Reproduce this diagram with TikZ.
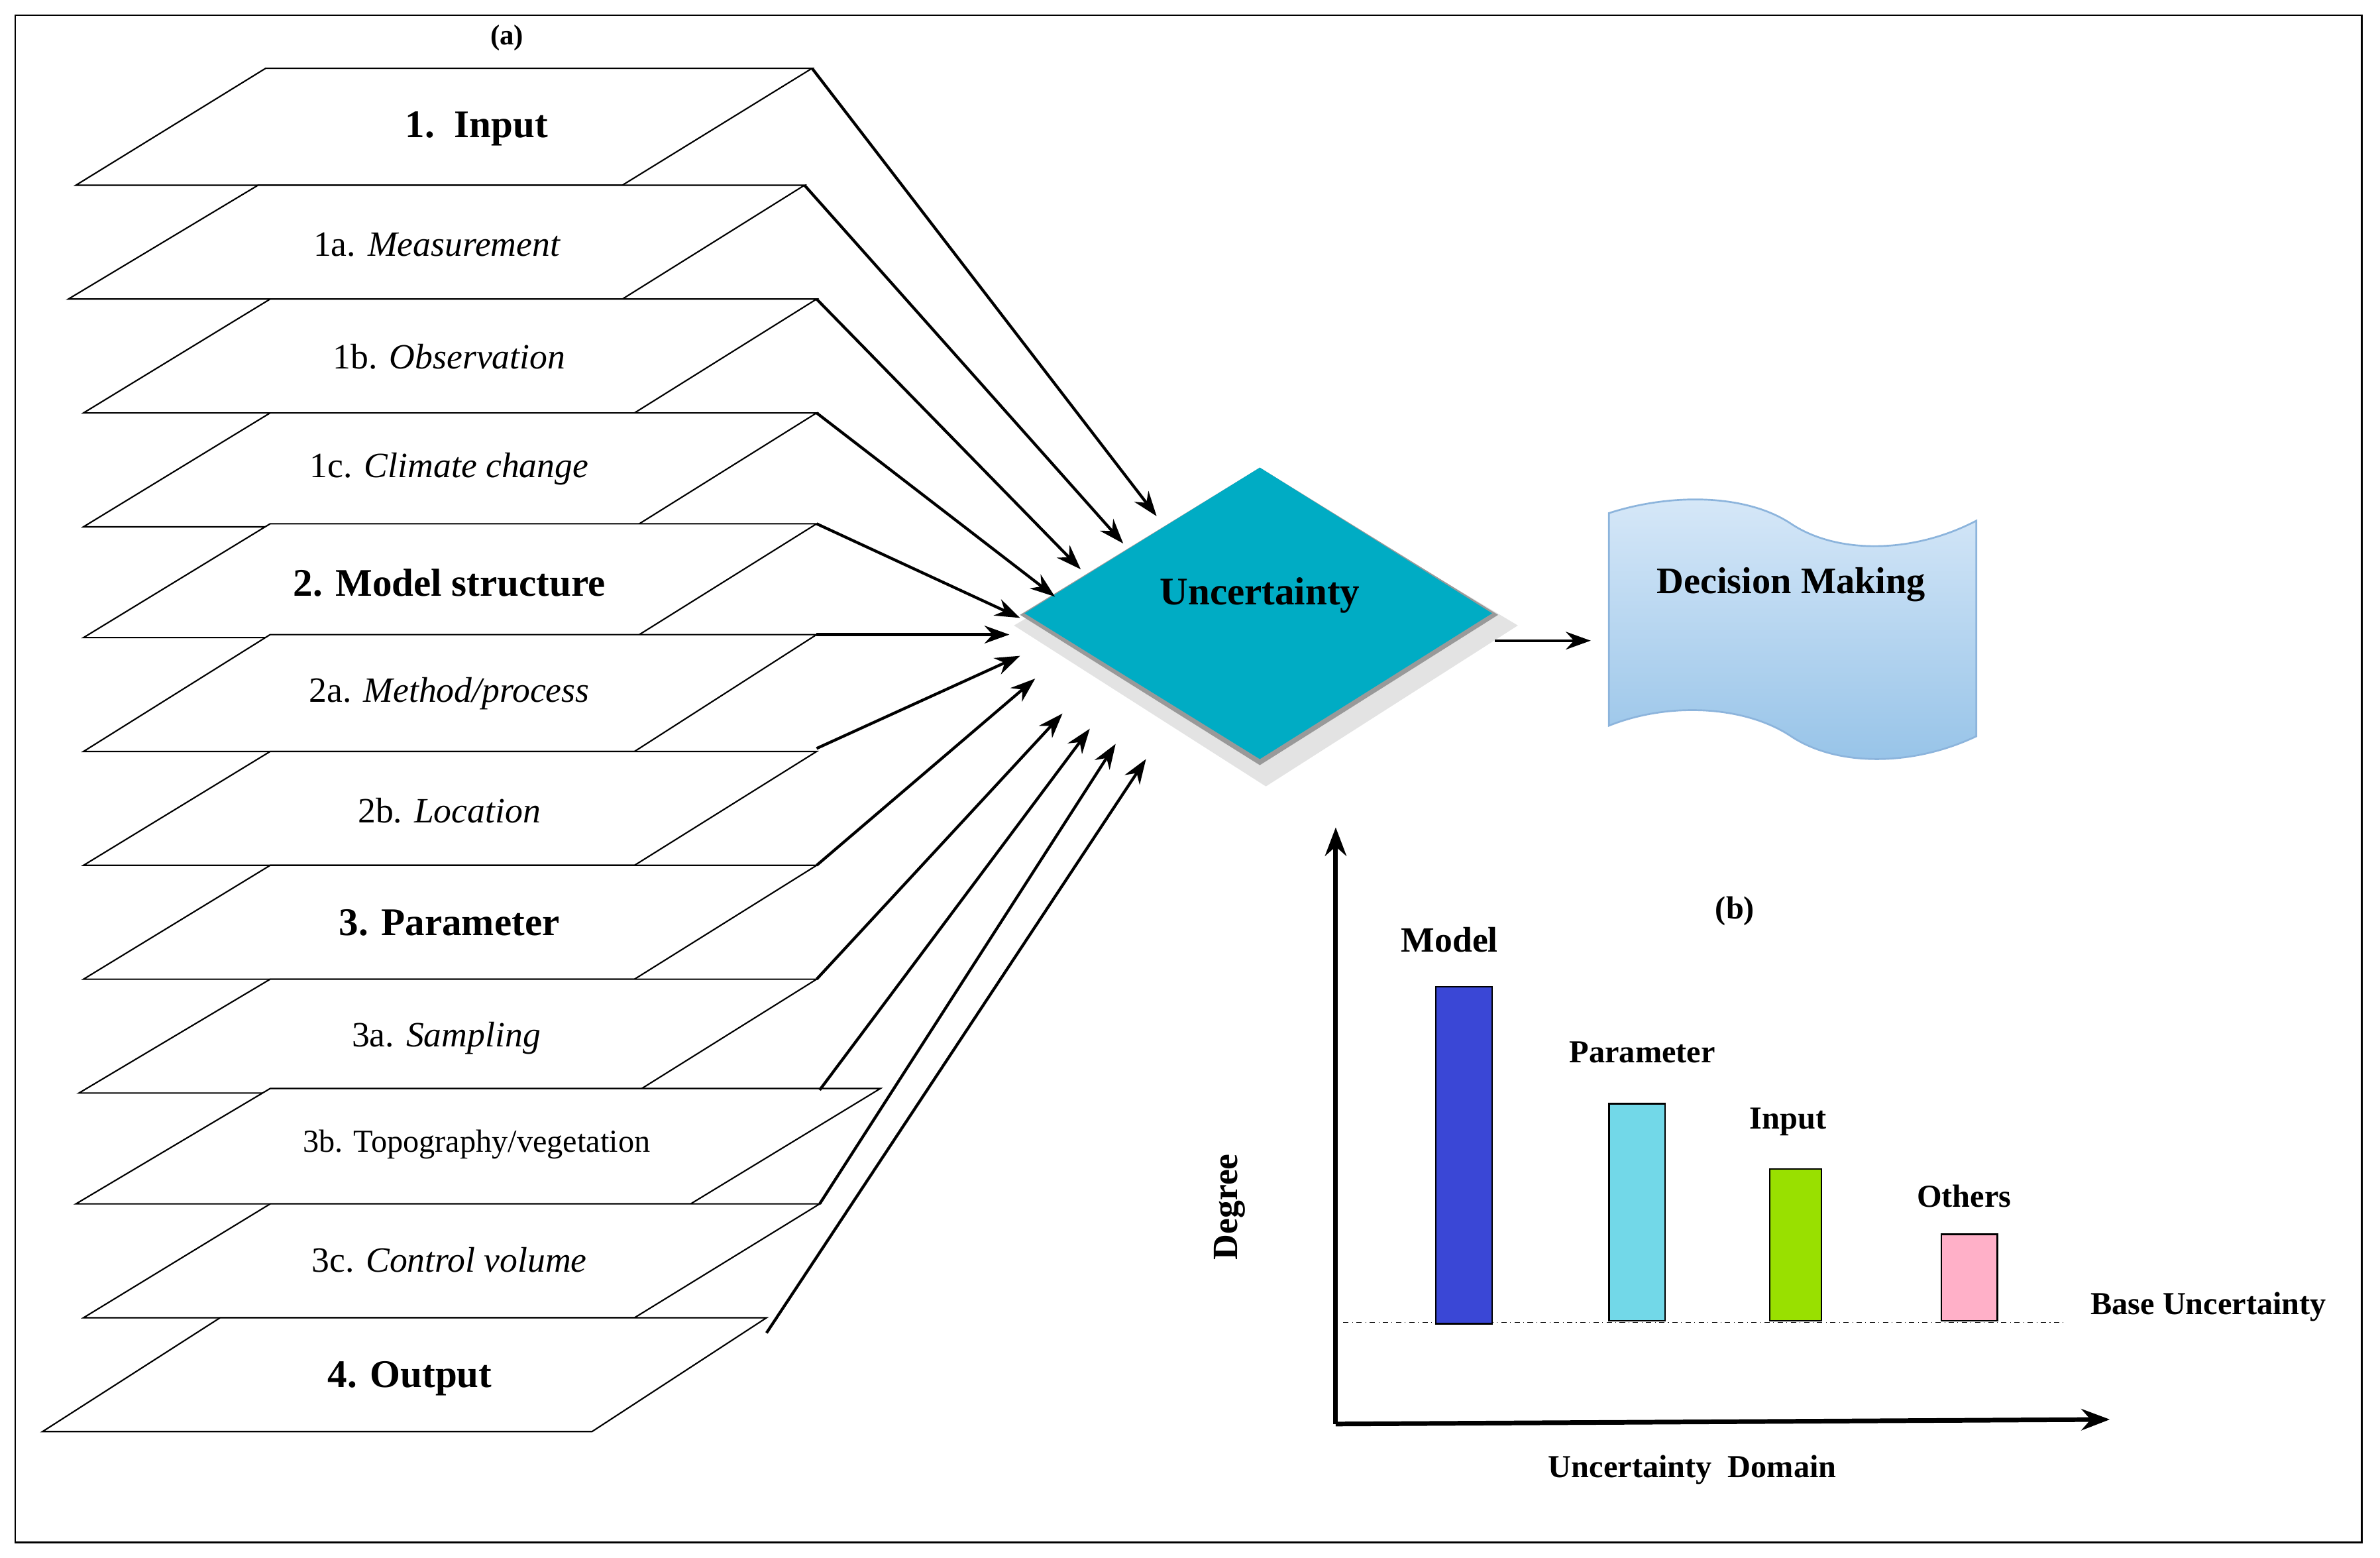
\documentclass[tikz,border=0pt]{standalone}
\usepackage{fontspec}
\setmainfont{Liberation Serif}
\usetikzlibrary{arrows.meta}
\begin{document}
\begin{tikzpicture}[x=0.03cm,y=-0.03cm,
 lay/.style={draw=black,fill=white,line width=0.8pt},
 arr/.style={-{Stealth[length=14pt,width=10pt]},line width=1.6pt},
 axis/.style={-{Stealth[length=16pt,width=12pt]},line width=2.6pt},
 lt/.style={font=\fontsize{20}{23}\selectfont},
 lb/.style={font=\fontsize{22}{25}\selectfont\bfseries},
 cl/.style={font=\fontsize{18}{21}\selectfont\bfseries}]
\useasboundingbox (0,0) rectangle (1568,1026);
\draw[line width=0.8pt] (10,10) rectangle (1556,1016);
\node[font=\fontsize{16}{19}\selectfont\bfseries] (a) at (334,25) {(a)};
% layers
\draw[lay] (175,45) -- (535,45) -- (410,122) -- (50,122) -- cycle;
\draw[lay] (170,122) -- (530,122) -- (410,197) -- (45,197) -- cycle;
\draw[lay] (178,197) -- (538,197) -- (418,272) -- (55,272) -- cycle;
\draw[lay] (178,272) -- (538,272) -- (418,347) -- (55,347) -- cycle;
\draw[lay] (178,345) -- (538,345) -- (418,420) -- (55,420) -- cycle;
\draw[lay] (178,418) -- (538,418) -- (418,495) -- (55,495) -- cycle;
\draw[lay] (178,495) -- (538,495) -- (418,570) -- (55,570) -- cycle;
\draw[lay] (178,570) -- (538,570) -- (418,645) -- (55,645) -- cycle;
\draw[lay] (178,645) -- (538,645) -- (418,720) -- (52,720) -- cycle;
\draw[lay] (178,717) -- (580,717) -- (455,793) -- (50,793) -- cycle;
\draw[lay] (178,793) -- (540,793) -- (418,868) -- (55,868) -- cycle;
\draw[lay] (145,868) -- (505,868) -- (390,943) -- (28,943) -- cycle;
\node[lb] (t1) at (314,85) {1.\ \ Input};
\node[lt] (t1a) at (288,161) {1a. \textit{Measurement}};
\node[lt] (t1b) at (296,235) {1b. \textit{Observation}};
\node[lt] (t1c) at (296,309) {1c. \textit{Climate change}};
\node[lb] (t2) at (296,384) {2. Model structure};
\node[lt] (t2a) at (296,457) {2a. \textit{Method/process}};
\node[lt] (t2b) at (296,534) {2b. \textit{Location}};
\node[lb] (t3) at (296,608) {3. Parameter};
\node[lt] (t3a) at (294,684) {3a. \textit{Sampling}};
\node[lt,font=\fontsize{18}{21}\selectfont] (t3b) at (314,754) {3b. Topography/vegetation};
\node[lt] (t3c) at (296,830) {3c. \textit{Control volume}};
\node[lb] (t4) at (270,908) {4. Output};
% diamond
\fill[gray!22] (836,314) -- (1000,412) -- (834,518) -- (668,412) -- cycle;
\fill[black!40] (830,308) -- (987,405) -- (830,504) -- (672,405) -- cycle;
\fill[fill={rgb,255:red,0;green,172;blue,196}] (830,308) -- (983,404) -- (830,500) -- (675,404) -- cycle;
\node[font=\fontsize{22}{25}\selectfont\bfseries] (u) at (830,392) {Uncertainty};
% sources and targets
\foreach \n/\sx/\sy/\tx/\ty in {1/535/45/762/340, 2/530/122/740/358, 3/538/197/712/375, 4/538/272/695/393, 5/538/345/672/407, 6/538/418/665/418, 7/538/493/672/432, 8/538/570/682/447, 9/538/645/700/470, 10/540/718/718/480, 11/540/793/735/490, 12/505/878/755/500}{
 \coordinate (s\n) at (\sx,\sy); \coordinate (e\n) at (\tx,\ty);
 \draw[arr] (s\n) -- (e\n);}
% decision making
\coordinate (d0) at (985,422); \coordinate (d1) at (1048,422);
\draw[arr] (d0) -- (d1);
\shade[top color={rgb,255:red,215;green,232;blue,248}, bottom color={rgb,255:red,150;green,195;blue,232}, draw={rgb,255:red,140;green,180;blue,220}, line width=1pt]
 (1060,338) .. controls (1100,325) and (1150,325) .. (1180,345) .. controls (1210,365) and (1260,365) .. (1302,343)
 -- (1302,485) .. controls (1260,505) and (1210,505) .. (1180,485) .. controls (1150,465) and (1100,462) .. (1060,478) -- cycle;
\node[font=\fontsize{21}{24}\selectfont\bfseries] (dm) at (1180,385) {Decision Making};
% chart
\coordinate (o) at (880,938); \coordinate (yt) at (880,545); \coordinate (xt) at (1390,935);
\draw[axis] (o) -- (yt);
\draw[axis] (o) -- (xt);
\draw[dash dot,line width=0.6pt] (885,871) -- (1360,871);
\draw[line width=1pt,fill={rgb,255:red,58;green,71;blue,214}] (946,650) rectangle (983,872);
\draw[line width=1pt,fill={rgb,255:red,114;green,216;blue,232}] (1060,727) rectangle (1097,870);
\draw[line width=1pt,fill={rgb,255:red,153;green,224;blue,0}] (1166,770) rectangle (1200,870);
\draw[line width=1pt,fill={rgb,255:red,255;green,176;blue,200}] (1279,813) rectangle (1316,870);
\node[cl,font=\fontsize{20}{23}\selectfont\bfseries] (lm) at (955,619) {Model};
\node[cl] (lp) at (1082,693) {Parameter};
\node[cl] (li) at (1178,739) {Input};
\node[cl] (lo) at (1294,788) {Others};
\node[cl] (lbu) at (1455,861) {Base Uncertainty};
\node[cl] (lbb) at (1143,600) {(b)};
\node[cl,font=\fontsize{20}{23}\selectfont\bfseries,rotate=90] (ld) at (810,795) {Degree};
\node[cl] (lx) at (1115,968) {Uncertainty\ \ Domain};
\end{tikzpicture}
\end{document}
